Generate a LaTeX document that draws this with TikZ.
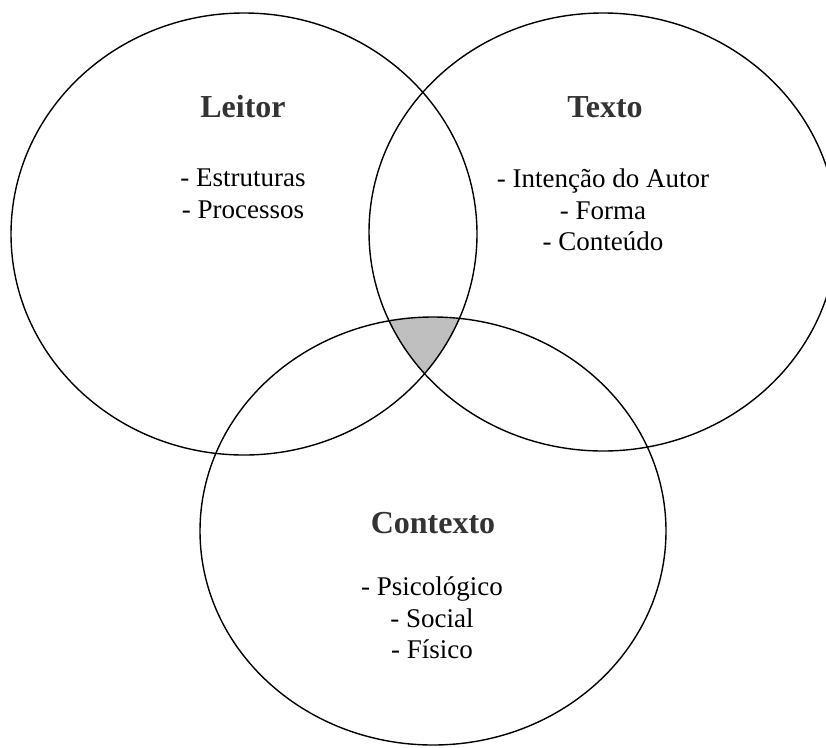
\documentclass[tikz,border=0pt]{standalone}
\usepackage{fontspec}
\setmainfont{Liberation Serif}

\begin{document}
\begin{tikzpicture}[x=1pt,y=-1pt,
    ring/.style={line width=1.4pt},
    title/.style={font=\fontsize{32}{38}\selectfont\bfseries, text=black!80},
    items/.style={font=\fontsize{27}{31.5}\selectfont, align=center}]
  \useasboundingbox (0,0) rectangle (826,747);

  % part common to the three circles
  \begin{scope}
    \clip (244,234) ellipse [x radius=233, y radius=221];
    \clip (603,232) ellipse [x radius=234, y radius=219];
    \fill [black!25] (433,531) ellipse [x radius=233, y radius=214];
  \end{scope}

  \draw [ring] (244,234) ellipse [x radius=233, y radius=221];
  \draw [ring] (603,232) ellipse [x radius=234, y radius=219];
  \draw [ring] (433,531) ellipse [x radius=233, y radius=214];

  \node [title] (L0) at (243,107) {Leitor};
  \node [items] (L1) at (243,194) {- Estruturas\\- Processos};

  \node [title] (T0) at (605,107) {Texto};
  \node [items] (T1) at (603,210) {- Intenção do Autor\\- Forma\\- Conteúdo};

  \node [title] (C0) at (433,523) {Contexto};
  \node [items] (C1) at (432,618) {- Psicológico\\- Social\\- Físico};
\end{tikzpicture}
\end{document}
